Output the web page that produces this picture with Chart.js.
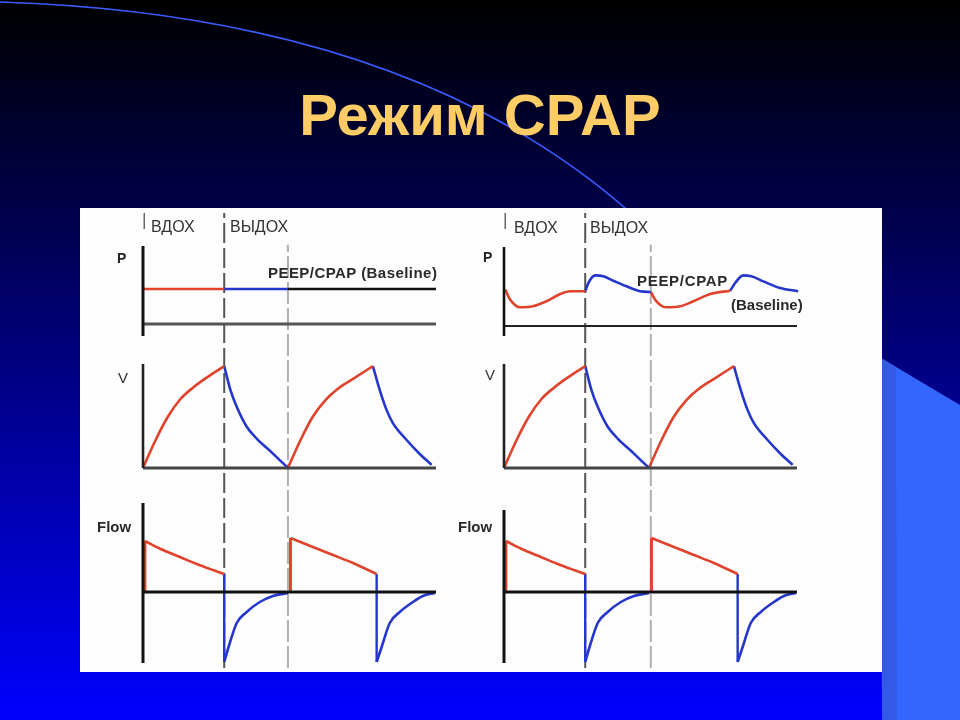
<!DOCTYPE html>
<html lang="ru">
<head>
<meta charset="utf-8">
<title>Режим CPAP</title>
<script src="https://cdn.jsdelivr.net/npm/chart.js@4.4.1/dist/chart.umd.min.js"></script>
<style>
  html, body { margin: 0; padding: 0; }
  body { width: 960px; height: 720px; position: relative; overflow: hidden; background: #000;
         font-family: 'Liberation Sans', Arial, sans-serif; }
  #bg { position: absolute; left: 0; top: 0; }
  h1 { position: absolute; left: 0; top: 86px; width: 960px; margin: 0; text-align: center;
       font-size: 58px; line-height: 58px; font-weight: bold; color: #ffcc66; }
  #panel { position: absolute; left: 80px; top: 208px; width: 802px; height: 464px; background: #fdfdfd; }
  canvas { position: absolute; }
  .lbl { position: absolute; white-space: nowrap; color: #333; }
  .phase { font-size: 16px; line-height: 16px; color: #333; }
  .ax { font-size: 14px; line-height: 14px; font-weight: bold; color: #222; }
  .note { font-size: 15px; line-height: 15px; font-weight: bold; color: #2a2a2a; }
  .v { font-size: 15px; line-height: 15px; color: #333; }
</style>
</head>
<body>
<svg id="bg" width="960" height="720">
  <defs>
    <linearGradient id="g" x1="0" y1="0" x2="0" y2="1">
      <stop offset="0" stop-color="#000000"/>
      <stop offset="1" stop-color="#0000ff"/>
    </linearGradient>
  </defs>
  <rect width="960" height="720" fill="url(#g)"/>
  <polygon points="881,358 960,405 960,720 882,720" fill="#3366ff"/>
  <polygon points="881,358 896,367 897,720 882,720" fill="#3359e6"/>
  <path d="M0,2 C250,10 470,70 632,214" fill="none" stroke="#3a5cff" stroke-width="1.6"/>
</svg>
<h1>Режим CPAP</h1>
<div id="panel"></div>

<script>
// time axis, s
const T_END = 4.69;
const eventsLeft = [1.3, 2.32];   // end of inspiration, end of expiration
const eventsRight = [1.3, 2.35];

// pressure, left (ideal CPAP), cmH2O
const peep = 5;
const pIdealInsp = [[0, peep], [1.3, peep]];
const pIdealExp = [[1.3, peep], [2.32, peep]];
const pIdealRest = [[2.32, peep], [T_END, peep]];

// pressure, right (real CPAP), cmH2O
const pRealInsp1 = [[0.02, 5.19], [0.10, 3.76], [0.26, 2.67], [0.46, 2.81], [0.68, 3.53], [0.90, 4.57], [1.06, 4.96], [1.30, 4.96]];
const pRealExp1 = [[1.30, 4.96], [1.35, 6.14], [1.46, 7.24], [1.59, 7.10], [1.75, 6.47], [1.96, 5.67], [2.18, 4.96], [2.35, 4.86]];
const pRealInsp2 = [[2.35, 4.86], [2.44, 3.53], [2.60, 2.67], [2.82, 2.81], [3.03, 3.53], [3.30, 4.57], [3.62, 5.04]];
const pRealExp2 = [[3.62, 5.04], [3.70, 6.14], [3.83, 7.24], [3.96, 7.10], [4.15, 6.38], [4.42, 5.43], [4.71, 4.96]];

// volume, mL
const volInsp1 = [[0, 0], [0.2, 135], [0.4, 250], [0.6, 335], [0.8, 390], [1.0, 435], [1.3, 495]];
const volExp1 = [[1.3, 495], [1.4, 378], [1.5, 297], [1.66, 200], [1.82, 143], [2.08, 70], [2.32, 0]];
const volInsp2 = [[2.32, 0], [2.52, 135], [2.72, 250], [2.92, 330], [3.12, 385], [3.35, 430], [3.68, 495]];
const volExp2 = [[3.68, 495], [3.79, 378], [3.9, 281], [4.0, 218], [4.22, 136], [4.43, 68], [4.62, 15]];

// flow, L/min
const flowInsp1 = [[0.03, 51], [0.32, 42], [0.59, 35], [0.86, 28], [1.12, 22], [1.3, 18]];
const flowExp1 = [[1.3, -70], [1.37, -55], [1.5, -31], [1.66, -20], [1.87, -10], [2.08, -4], [2.32, -1]];
const flowInsp2 = [[2.36, 54], [2.72, 45], [3.04, 37], [3.36, 29], [3.74, 18]];
const flowExp2 = [[3.74, -70], [3.82, -55], [3.95, -31], [4.11, -20], [4.32, -10], [4.48, -4], [4.67, -1]];

const RED = '#e0432c', BLUE = '#2436cc';

function pts(a) { return a.map(p => ({ x: p[0], y: p[1] })); }
function line(a, color, width, extra) {
  return Object.assign({ data: pts(a), borderColor: color, borderWidth: width, pointRadius: 0,
    fill: false, clip: false, tension: 0 }, extra || {});
}
function curve(a, color) { return line(a, color, 2.6, { cubicInterpolationMode: 'monotone' }); }
function rise(a, color) { return line([[a[0][0], 0], a[0]], color, 3); }
function drop(from, to, color) {
  return line([[to[0][0], from[from.length - 1][1]], to[0]], color, 2.4);
}

function plot(box, yMin, yMax, datasets) {
  const pad = 12;
  const c = document.createElement('canvas');
  c.width = box.w + 2 * pad;
  c.height = box.h + 2 * pad;
  c.style.left = (box.x - pad) + 'px';
  c.style.top = (box.y - pad) + 'px';
  document.body.appendChild(c);
  return new Chart(c, {
    type: 'line',
    data: { datasets: datasets },
    options: {
      responsive: false,
      animation: false,
      events: [],
      layout: { padding: pad },
      plugins: { legend: { display: false }, tooltip: { enabled: false } },
      scales: {
        x: { type: 'linear', min: 0, max: T_END, display: false },
        y: { type: 'linear', min: yMin, max: yMax, display: false }
      }
    }
  });
}

function guides(x, events) {
  plot({ x: x, y: 213, w: 293, h: 455 }, 0, 1, [
    line([[events[0], 0], [events[0], 1]], '#555', 2, { borderDash: [20, 5] }),
    line([[events[1], 0], [events[1], 0.93]], '#b0b0b0', 2, { borderDash: [22, 4] }),
    line([[0.02, 0.965], [0.02, 1]], '#666', 1.5)
  ]);
}

function volumeChart(x) {
  plot({ x: x, y: 364, w: 293, h: 104 }, 0, 505, [
    line([[0, 0], [0, 505]], '#222', 2.6),
    line([[0, 0], [T_END, 0]], '#444', 3),
    curve(volInsp1, RED), curve(volExp1, BLUE),
    curve(volInsp2, RED), curve(volExp2, BLUE)
  ]);
}

function flowChart(x, axisTop) {
  plot({ x: x, y: 503, w: 293, h: 160 }, -71, 89, [
    line([[0, -71], [0, axisTop]], '#111', 3),
    line([[0, 0], [T_END, 0]], '#111', 3),
    rise(flowInsp1, RED), curve(flowInsp1, RED),
    drop(flowInsp1, flowExp1, BLUE), curve(flowExp1, BLUE),
    rise(flowInsp2, RED), curve(flowInsp2, RED),
    drop(flowInsp2, flowExp2, BLUE), curve(flowExp2, BLUE)
  ]);
}

guides(143, eventsLeft);
guides(504, eventsRight);

// left column: ideal CPAP
plot({ x: 143, y: 246, w: 293, h: 90 }, -1.71, 11.14, [
  line([[0, -1.71], [0, 11.14]], '#111', 3),
  line([[0, 0], [T_END, 0]], '#555', 3.2),
  line(pIdealInsp, RED, 2.6), line(pIdealExp, BLUE, 2.6), line(pIdealRest, '#111', 2.6)
]);
volumeChart(143);
flowChart(143, 89);

// right column: real CPAP
plot({ x: 504, y: 247, w: 293, h: 89 }, -1.43, 11.29, [
  line([[0, -1.43], [0, 11.29]], '#111', 2.6),
  line([[0, 0], [T_END, 0]], '#222', 2),
  curve(pRealInsp1, RED), curve(pRealExp1, BLUE),
  curve(pRealInsp2, RED), curve(pRealExp2, BLUE)
]);
volumeChart(504);
flowChart(504, 82);
</script>

<div class="lbl phase" style="left:151px; top:219px;">ВДОХ</div>
<div class="lbl phase" style="left:230px; top:219px;">ВЫДОХ</div>
<div class="lbl phase" style="left:514px; top:220px;">ВДОХ</div>
<div class="lbl phase" style="left:590px; top:220px;">ВЫДОХ</div>

<div class="lbl ax" style="left:117px; top:251px;">P</div>
<div class="lbl ax" style="left:483px; top:250px;">P</div>
<div class="lbl note" style="left:268px; top:265px; letter-spacing:0.45px;">PEEP/CPAP (Baseline)</div>
<div class="lbl note" style="left:637px; top:273px; letter-spacing:0.7px;">PEEP/CPAP</div>
<div class="lbl note" style="left:731px; top:297px;">(Baseline)</div>

<div class="lbl v" style="left:118px; top:370px;">V</div>
<div class="lbl v" style="left:485px; top:367px;">V</div>
<div class="lbl note" style="left:97px; top:519px;">Flow</div>
<div class="lbl note" style="left:458px; top:519px;">Flow</div>
</body>
</html>
